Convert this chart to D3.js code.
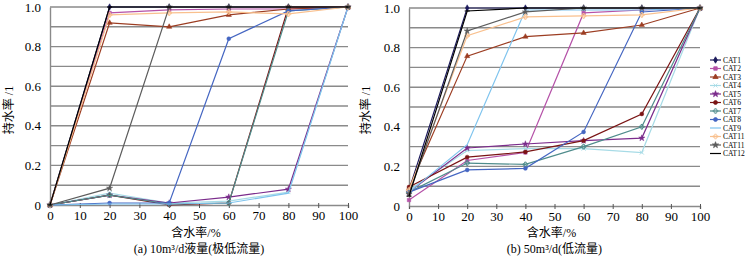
<!DOCTYPE html>
<html>
<head>
<meta charset="utf-8">
<script src="https://cdn.jsdelivr.net/npm/d3@7"></script>
<style>
  body { margin: 0; background: #fff; }
  svg text { font-family: "Liberation Serif", "Times New Roman", "DejaVu Serif", serif; fill: #000; }
  svg text.cjk { font-family: "Liberation Serif", "Noto Sans CJK SC", serif; }
</style>
</head>
<body>
<svg id="chart" width="750" height="257"></svg>
<script>
// ---- data ----
const waterCut = [0, 20, 40, 60, 80, 100];
const seriesNames = ["CAT1", "CAT2", "CAT3", "CAT4", "CAT5", "CAT6", "CAT7", "CAT8", "CAT9", "CAT11", "CAT11", "CAT12"];
const seriesColors = ["#1c1a5c", "#b552a8", "#9c3d22", "#a7dbe6", "#7b2c8c", "#7a1414", "#4f8c8c", "#4566c2", "#7fc4ee", "#f9c08e", "#5c5c5c", "#000000"];
const seriesMarkers = ["diamond", "square", "triangle", "x", "star", "circle", "plus", "circle", "none", "plus", "star", "dash"];

// (a) 10 m3/d
const holdupA = [
  [0, 1.0, 1.0, 1.0, 1.0, 1.0],
  [0, 0.97, 0.985, 0.99, 0.99, 1.0],
  [0, 0.92, 0.90, 0.96, 0.99, 1.0],
  [0, 0.06, 0.01, 0.02, 0.065, 1.0],
  [0, 0.05, 0.01, 0.04, 0.08, 1.0],
  [0, 0.05, 0.0, 0.01, 1.0, 1.0],
  [0, 0.05, 0.005, 0.01, 0.98, 1.0],
  [0, 0.01, 0.01, 0.84, 0.98, 1.0],
  [0, 0.005, 0.005, 0.01, 0.06, 1.0],
  [0, 0.96, 0.97, 0.975, 0.965, 1.0],
  [0, 0.085, 1.0, 1.0, 1.0, 1.0],
  [0, 1.0, 1.0, 1.0, 1.0, 1.0]
];

// (b) 50 m3/d
const holdupB = [
  [0.08, 1.0, 1.0, 1.0, 1.0, 1.0],
  [0.03, 0.23, 0.27, 0.975, 0.99, 1.0],
  [0.09, 0.757, 0.855, 0.874, 0.914, 1.0],
  [0.08, 0.28, 0.29, 0.29, 0.27, 1.0],
  [0.07, 0.293, 0.313, 0.33, 0.343, 1.0],
  [0.096, 0.247, 0.273, 0.33, 0.465, 1.0],
  [0.07, 0.217, 0.21, 0.30, 0.40, 1.0],
  [0.07, 0.182, 0.19, 0.374, 0.98, 1.0],
  [0.07, 0.31, 0.99, 0.99, 0.99, 1.0],
  [0.08, 0.86, 0.955, 0.96, 0.965, 1.0],
  [0.06, 0.884, 0.98, 1.0, 1.0, 1.0],
  [0.05, 0.985, 1.0, 1.0, 1.0, 1.0]
];

const xTicks = [0, 10, 20, 30, 40, 50, 60, 70, 80, 90, 100];
const yTicks = [0, 0.2, 0.4, 0.6, 0.8, 1.0];
const yGrid = [0.1, 0.2, 0.3, 0.4, 0.5, 0.6, 0.7, 0.8, 0.9, 1.0];
const yTitle = "持水率 /1";
const xTitle = "含水率/%";
const captions = ["(a) 10m³/d液量(极低流量)", "(b) 50m³/d(低流量)"];

const svg = d3.select("#chart");
const SERIF = "'Liberation Serif', 'Times New Roman', 'DejaVu Serif', serif";

function markerPath(type) {
  const map = {
    diamond: d3.symbolDiamond, square: d3.symbolSquare, triangle: d3.symbolTriangle,
    x: d3.symbolTimes, star: d3.symbolStar, circle: d3.symbolCircle, plus: d3.symbolCross
  };
  if (type === "dash") return "M-2.5,0H2.5";
  if (!map[type]) return null;
  return d3.symbol(map[type], 12)();
}
const hollow = t => ["x", "plus", "dash"].includes(t);

function drawPanel(panel, data, caption) {
  const x = d3.scaleLinear().domain([0, 100]).range([panel.x0, panel.x1]);
  const y = d3.scaleLinear().domain([0, 1]).range([panel.y0, panel.y1]);
  const g = svg.append("g");

  // gridlines
  g.selectAll(".grid").data(yGrid).join("line")
    .attr("x1", x(0)).attr("x2", x(100))
    .attr("y1", d => y(d)).attr("y2", d => y(d))
    .attr("stroke", "#8a8a8a").attr("stroke-width", 1.4);

  // axes
  const xAxis = g.append("g").attr("transform", `translate(0,${y(0)})`)
    .call(d3.axisBottom(x).tickValues(xTicks).tickSize(3).tickFormat(d3.format("d")));
  xAxis.attr("font-family", SERIF);
  xAxis.select(".domain").attr("stroke", "#8a8a8a").attr("stroke-width", 1.4);
  xAxis.selectAll(".tick line").attr("stroke", "#555").attr("y1", -2).attr("y2", 3);
  xAxis.selectAll("text").attr("font-size", 13).attr("font-family", SERIF);

  const yAxis = g.append("g").attr("transform", `translate(${x(0)},0)`)
    .call(d3.axisLeft(y).tickValues(yTicks).tickSize(0).tickPadding(9)
      .tickFormat(d => d === 0 ? "0" : d3.format(".1f")(d)));
  yAxis.attr("font-family", SERIF);
  yAxis.select(".domain").attr("stroke", "#8a8a8a").attr("stroke-width", 1.4);
  yAxis.selectAll("text").attr("font-size", 13).attr("font-family", SERIF);

  // series
  const line = d3.line().x((d, i) => x(waterCut[i])).y(d => y(d));
  data.forEach((vals, si) => {
    g.append("path").datum(vals)
      .attr("fill", "none")
      .attr("stroke", seriesColors[si])
      .attr("stroke-width", 1.2)
      .attr("d", line);
    const p = markerPath(seriesMarkers[si]);
    if (p) {
      g.selectAll(null).data(vals).join("path")
        .attr("transform", (d, i) => `translate(${x(waterCut[i])},${y(d)})`)
        .attr("d", p)
        .attr("fill", hollow(seriesMarkers[si]) ? "none" : seriesColors[si])
        .attr("stroke", seriesColors[si])
        .attr("stroke-width", hollow(seriesMarkers[si]) ? 1 : 0.5);
    }
  });

  // titles
  g.append("text").attr("class", "cjk")
    .attr("transform", `translate(${panel.yTitleX},110) rotate(-90)`)
    .attr("text-anchor", "middle").attr("dy", "0.35em")
    .attr("font-size", 12).text(yTitle);
  g.append("text").attr("class", "cjk")
    .attr("x", (x(0) + x(100)) / 2 - 3).attr("y", 237)
    .attr("text-anchor", "middle").attr("font-size", 12).text(xTitle);
  g.append("text").attr("class", "cjk")
    .attr("x", (x(0) + x(100)) / 2).attr("y", 253)
    .attr("text-anchor", "middle").attr("font-size", 12).text(caption);
}

drawPanel({ x0: 50, x1: 348, y0: 205, y1: 7, yTitleX: 9 }, holdupA, captions[0]);
drawPanel({ x0: 409, x1: 700, y0: 206, y1: 8, yTitleX: 366 }, holdupB, captions[1]);

// legend
const legend = svg.append("g").attr("transform", "translate(710,60)");
seriesNames.forEach((name, i) => {
  const row = legend.append("g").attr("transform", `translate(0,${i * 8.5})`);
  row.append("line").attr("x1", 0).attr("x2", 11).attr("y1", 0).attr("y2", 0)
    .attr("stroke", seriesColors[i]).attr("stroke-width", 1.2);
  const p = markerPath(seriesMarkers[i]);
  if (p) {
    row.append("path").attr("transform", "translate(5.5,0)").attr("d", p)
      .attr("fill", hollow(seriesMarkers[i]) ? "none" : seriesColors[i])
      .attr("stroke", seriesColors[i]).attr("stroke-width", 0.8);
  }
  row.append("text").attr("x", 13).attr("dy", "0.35em")
    .attr("font-size", 7.5).text(name);
});
</script>
</body>
</html>
